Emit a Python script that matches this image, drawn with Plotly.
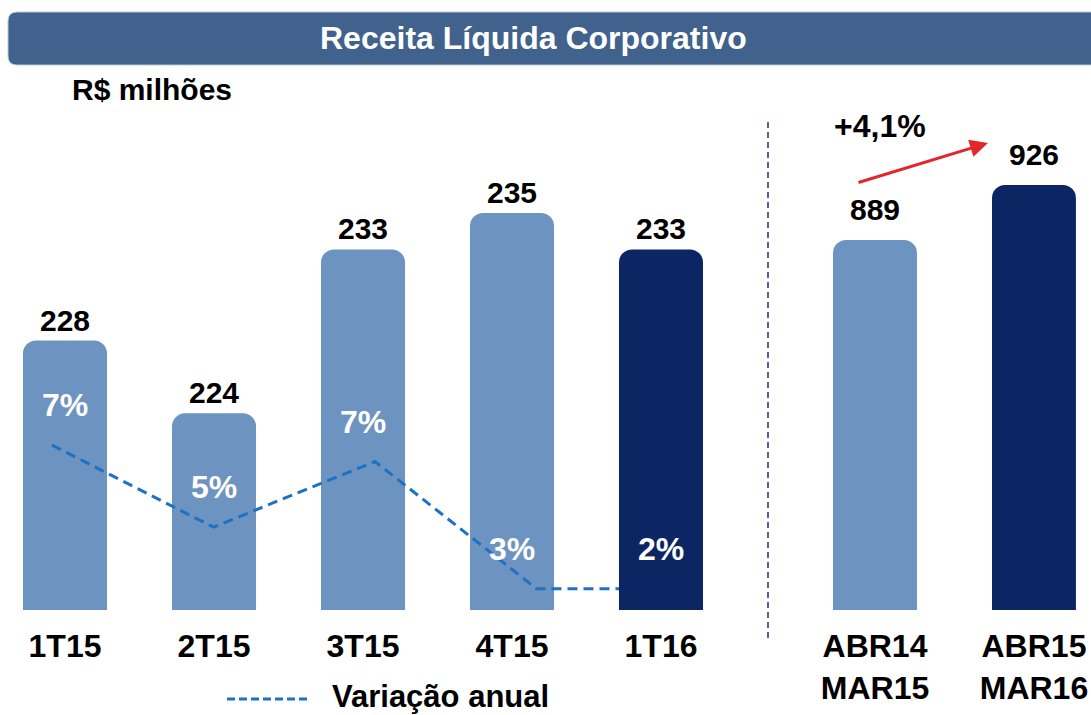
import plotly.graph_objects as go

# ---------------- data ----------------
title_text = "Receita Líquida Corporativo"
unit_text = "R$ milhões"

quarters = ["1T15", "2T15", "3T15", "4T15", "1T16"]
quarter_values = [228, 224, 233, 235, 233]
quarter_highlight = [False, False, False, False, True]

var_name = "Variação anual"
var_labels = ["7%", "5%", "7%", "3%", "2%"]
var_line = [7.0, 5.0, 6.6, 3.5, 3.5]

periods = ["ABR14<br>MAR15", "ABR15<br>MAR16"]
period_values = [889, 926]
period_highlight = [False, True]
growth_label = "+4,1%"

# ---------------- style ----------------
W, H = 1091, 715
FONT = "Liberation Sans, Arial, sans-serif"
LIGHT = "#6D93C0"
DARK = "#0B2662"
LINE = "#1C72C4"
TITLE_BG = "#41628C"


def px(x):
    return x / W


def py(y):
    return 1 - y / H


y_dom = [py(610), 1.0]
left_dom = [px(5.4), px(735.5)]
right_dom = [px(811.4), px(1089.6)]

fig = go.Figure()

# light quarter bars
fig.add_trace(go.Bar(
    x=quarters,
    y=[v if not h else None for v, h in zip(quarter_values, quarter_highlight)],
    xaxis="x", yaxis="y", width=0.564,
    marker=dict(color=LIGHT, cornerradius=13, line=dict(width=0)),
    showlegend=False, hoverinfo="skip",
))
# annual variation line
fig.add_trace(go.Scatter(
    x=quarters, y=var_line, xaxis="x2", yaxis="y2", mode="lines",
    name=var_name, line=dict(color=LINE, width=3, dash="10px,6px"),
    showlegend=False, hoverinfo="skip",
))
# highlighted quarter bar (drawn above the line)
fig.add_trace(go.Bar(
    x=quarters,
    y=[v if h else None for v, h in zip(quarter_values, quarter_highlight)],
    xaxis="x3", yaxis="y3", width=0.564,
    marker=dict(color=DARK, cornerradius=13, line=dict(width=0)),
    showlegend=False, hoverinfo="skip",
))
# 12-month bars
fig.add_trace(go.Bar(
    x=periods, y=period_values, xaxis="x4", yaxis="y4", width=0.528,
    marker=dict(color=[DARK if h else LIGHT for h in period_highlight],
                cornerradius=13, line=dict(width=0)),
    showlegend=False, hoverinfo="skip",
))

tickfont = dict(family=FONT, size=32, color="black", weight="bold")
hidden = dict(visible=False, showgrid=False, zeroline=False)

fig.update_layout(
    width=W, height=H, autosize=False,
    margin=dict(l=0, r=0, t=0, b=0),
    paper_bgcolor="white", plot_bgcolor="rgba(0,0,0,0)",
    font=dict(family=FONT),
    showlegend=False,
    xaxis=dict(domain=left_dom, range=[-0.4, 4.5], type="category",
               categoryorder="array", categoryarray=quarters,
               showgrid=False, zeroline=False, showline=False, ticks="",
               tickfont=tickfont, ticklabelstandoff=14, anchor="y"),
    yaxis=dict(domain=y_dom, range=[213.2, 246.7], anchor="x", **hidden),
    xaxis2=dict(overlaying="x", range=[-0.2885, 4.232], type="category",
                categoryorder="array", categoryarray=quarters, **hidden),
    yaxis2=dict(overlaying="y", range=[2.98, 17.85], **hidden),
    xaxis3=dict(overlaying="x", range=[-0.4, 4.5], type="category",
                categoryorder="array", categoryarray=quarters, **hidden),
    yaxis3=dict(overlaying="y", range=[213.2, 246.7], **hidden),
    xaxis4=dict(domain=right_dom, range=[-0.4, 1.35], type="category",
                showgrid=False, zeroline=False, showline=False, ticks="",
                tickfont=tickfont, ticklabelstandoff=14, anchor="y4"),
    yaxis4=dict(domain=y_dom, range=[640.1, 1050.5], anchor="x4", **hidden),
)

ann = []
valfont = dict(family=FONT, size=30, color="black", weight="bold")
for q, v in zip(quarters, quarter_values):
    ann.append(dict(x=q, y=v, xref="x", yref="y", text=str(v), showarrow=False,
                    yanchor="bottom", yshift=2, font=valfont))
for q, lab, lv in zip(quarters, var_labels, var_line):
    ann.append(dict(x=q, y=lv, xref="x", yref="y2", text=lab, showarrow=False,
                    yanchor="middle", yshift=40,
                    font=dict(family=FONT, size=32, color="white", weight="bold")))
for p, v in zip(periods, period_values):
    ann.append(dict(x=p, y=v, xref="x4", yref="y4", text=str(v), showarrow=False,
                    yanchor="bottom", yshift=12, font=valfont))

# title, unit, growth, legend
ann.append(dict(x=px(533), y=py(38), xref="paper", yref="paper", text=title_text,
                showarrow=False, xanchor="center", yanchor="middle",
                font=dict(family=FONT, size=32, color="white", weight="bold")))
ann.append(dict(x=px(70), y=py(90), xref="paper", yref="paper", text=unit_text,
                showarrow=False, xanchor="left", yanchor="middle",
                font=dict(family=FONT, size=30, color="black", weight="bold")))
ann.append(dict(x=px(880), y=py(126), xref="paper", yref="paper", text=growth_label,
                showarrow=False, xanchor="center", yanchor="middle",
                font=dict(family=FONT, size=32, color="black", weight="bold")))
ann.append(dict(x=px(988), y=py(143), xref="paper", yref="paper", text="",
                showarrow=True, ax=-131, ay=40, arrowhead=2, arrowsize=1.2,
                arrowwidth=3, arrowcolor="#E3262B", standoff=0, startstandoff=0))
ann.append(dict(x=px(330), y=py(696), xref="paper", yref="paper", text=var_name,
                showarrow=False, xanchor="left", yanchor="middle",
                font=dict(family=FONT, size=31, color="black", weight="bold")))
fig.update_layout(annotations=ann)

# shapes
x0, x1, y0, y1, r = 8, 1100, 12, 65, 9
path = (f"M{px(x0 + r)},{py(y0)} L{px(x1)},{py(y0)} L{px(x1)},{py(y1)} "
        f"L{px(x0 + r)},{py(y1)} Q{px(x0)},{py(y1)} {px(x0)},{py(y1 - r)} "
        f"L{px(x0)},{py(y0 + r)} Q{px(x0)},{py(y0)} {px(x0 + r)},{py(y0)} Z")
fig.add_shape(type="path", path=path, xref="paper", yref="paper",
              fillcolor=TITLE_BG, line=dict(color="#B9C8DB", width=1), layer="below")
fig.add_shape(type="line", xref="paper", yref="paper", x0=px(768), x1=px(768),
              y0=py(122), y1=py(642), line=dict(color="#1F2A8C", width=1.5, dash="6px,4px"))
fig.add_shape(type="line", xref="paper", yref="paper", x0=px(227), x1=px(310),
              y0=py(699), y1=py(699), line=dict(color=LINE, width=3, dash="8px,4px"))

fig.write_html(
    "out.html",
    config={"displayModeBar": False},
    post_script="document.body.style.margin='0';document.body.style.overflow='hidden';",
)
